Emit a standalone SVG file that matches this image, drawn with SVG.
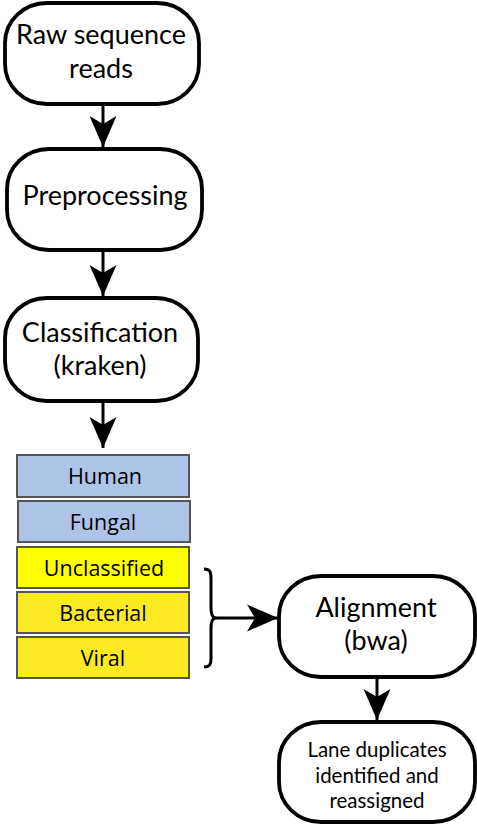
<svg xmlns="http://www.w3.org/2000/svg" width="477" height="825" viewBox="0 0 477 825">
<style>
.node{fill:#fff;stroke:#000;stroke-width:3.8}
.t{font-family:Lato,"Open Sans","Liberation Sans",sans-serif;fill:#000;text-anchor:middle}
.big{font-size:27px}
.small{font-size:20.5px}
.cat{stroke:#555;stroke-width:2}
.ct{font-family:"Open Sans","Liberation Sans",sans-serif;font-size:21.5px;fill:#000;text-anchor:middle}
.edge{stroke:#000;stroke-width:3;fill:none}
</style>
<defs>
<marker id="ah" markerUnits="userSpaceOnUse" markerWidth="32" markerHeight="30" viewBox="-31 -14 32 28" refX="0" refY="0" orient="auto">
<path d="M0,0 L-31,-13.5 L-23,0 L-31,13.5 Z" fill="#000"/>
</marker>
</defs>
<g id="connectors">
<line class="edge" x1="103" y1="104" x2="103" y2="147" marker-end="url(#ah)"/>
<line class="edge" x1="103" y1="250" x2="103" y2="296" marker-end="url(#ah)"/>
<line class="edge" x1="103" y1="402" x2="103" y2="448" marker-end="url(#ah)"/>
<path class="edge" d="M204,569 C210,569 211,572 211,578 L211,608 C211,614 212,617 215,618 C212,619 211,622 211,628 L211,658 C211,664 210,667 204,667" stroke-width="4"/>
<line class="edge" x1="215" y1="618" x2="278" y2="618" marker-end="url(#ah)"/>
<line class="edge" x1="377" y1="677" x2="377" y2="720" marker-end="url(#ah)"/>
</g>
<g id="raw">
<rect class="node" x="5" y="3" width="194" height="101" rx="42" ry="40"/>
<text class="t big" x="101" y="44">Raw sequence</text>
<text class="t big" x="101" y="78">reads</text>
</g>
<g id="preprocessing">
<rect class="node" x="7" y="149" width="195" height="101" rx="42" ry="40"/>
<text class="t big" x="105" y="205">Preprocessing</text>
</g>
<g id="classification">
<rect class="node" x="5" y="298" width="193" height="103" rx="42" ry="40"/>
<text class="t big" x="100" y="342">Classification</text>
<text class="t big" x="100" y="375">(kraken)</text>
</g>
<g id="human">
<rect class="cat" x="17" y="455" width="172" height="42" fill="#aec3e8"/>
<text class="ct" x="105" y="484">Human</text>
</g>
<g id="fungal">
<rect class="cat" x="18" y="501" width="172" height="41" fill="#aec3e8"/>
<text class="ct" x="103" y="530">Fungal</text>
</g>
<g id="unclassified">
<rect class="cat" x="17" y="547" width="172" height="41" fill="#ffff00"/>
<text class="ct" x="104" y="576">Unclassified</text>
</g>
<g id="bacterial">
<rect class="cat" x="17" y="592" width="172" height="41" fill="#fcea22"/>
<text class="ct" x="103" y="621">Bacterial</text>
</g>
<g id="viral">
<rect class="cat" x="17" y="637" width="172" height="41" fill="#fcea22"/>
<text class="ct" x="103" y="666">Viral</text>
</g>
<g id="alignment">
<rect class="node" x="279" y="576" width="196" height="101" rx="42" ry="40"/>
<text class="t big" x="376" y="617">Alignment</text>
<text class="t big" x="376" y="650">(bwa)</text>
</g>
<g id="lane">
<rect class="node" x="279" y="722" width="196" height="100" rx="42" ry="40"/>
<text class="t small" x="377" y="757">Lane duplicates</text>
<text class="t small" x="377" y="783">identified and</text>
<text class="t small" x="377" y="808">reassigned</text>
</g>
</svg>
